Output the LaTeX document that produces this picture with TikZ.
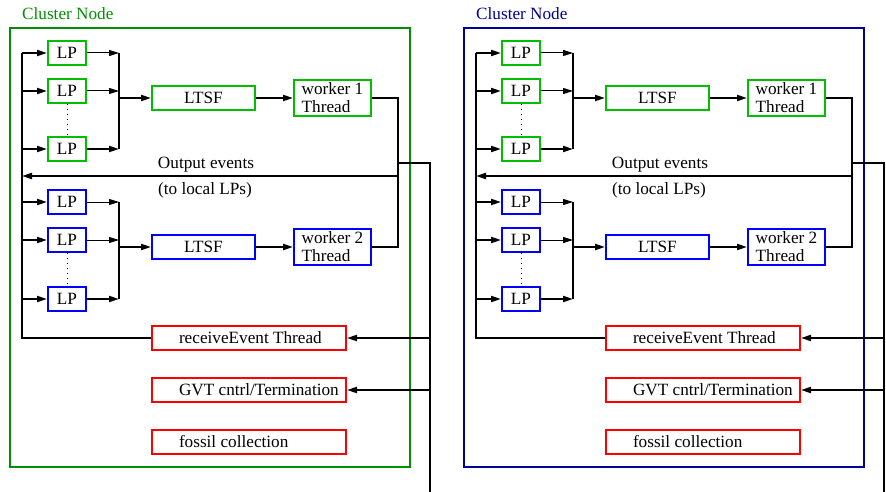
\documentclass[tikz,border=0pt]{standalone}
\usepackage{fontspec}
\setmainfont{Liberation Serif}
\usetikzlibrary{arrows.meta,positioning}
\definecolor{lpgreen}{RGB}{0,190,0}
\definecolor{nodegreen}{RGB}{0,144,0}
\definecolor{lpblue}{RGB}{0,0,255}
\definecolor{nodeblue}{RGB}{0,0,150}
\definecolor{thrred}{RGB}{255,0,0}
\tikzstyle{box}=[draw, line width=2pt, inner sep=0pt]
\tikzstyle{lp}=[box, minimum width=38pt, minimum height=24pt]
\tikzstyle{ltsf}=[box, minimum width=103pt, minimum height=24pt]
\tikzstyle{wrk}=[box, align=left, minimum width=77pt, minimum height=36pt]
\tikzstyle{thr}=[box, draw=thrred, minimum height=24pt, inner xsep=27pt]
\tikzstyle{wire}=[line width=2pt]
\tikzstyle{fine}=[line width=1pt]
% thread boxes keep their text flush left
\newcommand{\thrlabel}[1]{\makebox[140pt][l]{#1}}

\begin{document}
\begin{tikzpicture}[x=1pt, y=-1pt, font=\fontsize{17.2}{18}\selectfont,
  >={Triangle[length=10pt,width=6pt]}]
\useasboundingbox (0,0) rectangle (886,492);

\foreach \dx/\frm in {0/nodegreen, 454/nodeblue} {
\begin{scope}[xshift=\dx]
\node[anchor=base west, inner sep=0pt, text=\frm] (title) at (22,20) {Cluster Node};
\draw[draw=\frm, line width=2pt] (10,28) rectangle (410,467);

% first worker: green LPs
\node[lp, draw=lpgreen] (lp1) at (67,53) {LP};
\node[lp, draw=lpgreen] (lp2) at (67,91) {LP};
\node[lp, draw=lpgreen] (lp3) at (67,149) {LP};
\node[ltsf, draw=lpgreen] (ltsf1) at (203.5,98) {LTSF};
\node[wrk, draw=lpgreen, right=37pt of ltsf1] (wk1) {worker 1\\Thread};

% second worker: blue LPs
\node[lp, draw=lpblue] (lp4) at (67,202) {LP};
\node[lp, draw=lpblue] (lp5) at (67,240) {LP};
\node[lp, draw=lpblue] (lp6) at (67,299) {LP};
\node[ltsf, draw=lpblue] (ltsf2) at (203.5,247) {LTSF};
\node[wrk, draw=lpblue, right=37pt of ltsf2] (wk2) {worker 2\\Thread};

\node[thr] (recv) at (249,338) {\thrlabel{receiveEvent Thread}};
\node[thr] (gvt) at (249,390) {\thrlabel{GVT cntrl/Termination}};
\node[thr] (fossil) at (249,442) {\thrlabel{fossil collection}};

\node[anchor=base] (outlbl) at (206,168) {Output events};
\node[anchor=base] (loclbl) at (205,194) {(to local LPs)};

\coordinate (busx) at (22,0);
\coordinate (barx) at (119,0);
\coordinate (retpt) at (398,176);
\coordinate (tappt) at (398,163);
\coordinate (downpt) at (430,492);

% input bus on the left
\draw[wire] (lp1.west -| busx) -- (recv -| busx) -- (recv);
\foreach \n in {lp1,lp2,lp3,lp4,lp5,lp6}
  \draw[->, wire] (\n.west -| busx) -- (\n);

% LPs into the LTSF queue
\draw[->, fine] (lp1) -- (lp1 -| barx);
\draw[->, fine] (lp2) -- (lp2 -| barx);
\draw[->, wire] (lp3) -- (lp3 -| barx);
\draw[->, fine] (lp4) -- (lp4 -| barx);
\draw[->, fine] (lp5) -- (lp5 -| barx);
\draw[->, wire] (lp6) -- (lp6 -| barx);
\draw[wire] (lp1 -| barx) -- (lp3 -| barx);
\draw[wire] (lp4 -| barx) -- (lp6 -| barx);
\draw[dash pattern=on 1pt off 4pt, fine] (lp2) -- (lp3);
\draw[dash pattern=on 1pt off 4pt, fine] (lp5) -- (lp6);
\draw[->, wire] (ltsf1 -| barx) -- (ltsf1);
\draw[->, wire] (ltsf2 -| barx) -- (ltsf2);
\draw[->, wire] (ltsf1) -- (wk1);
\draw[->, wire] (ltsf2) -- (wk2);

% worker output, back to local LPs and out to the network
\draw[wire] (wk1) -- (wk1 -| retpt) -- (wk2 -| retpt) -- (wk2);
\draw[->, wire] (retpt) -- (retpt -| busx);
\draw[wire] (tappt) -- (tappt -| downpt) -- (downpt);
\draw[->, wire] (recv -| downpt) -- (recv);
\draw[->, wire] (gvt -| downpt) -- (gvt);
\end{scope}
}
\end{tikzpicture}
\end{document}
